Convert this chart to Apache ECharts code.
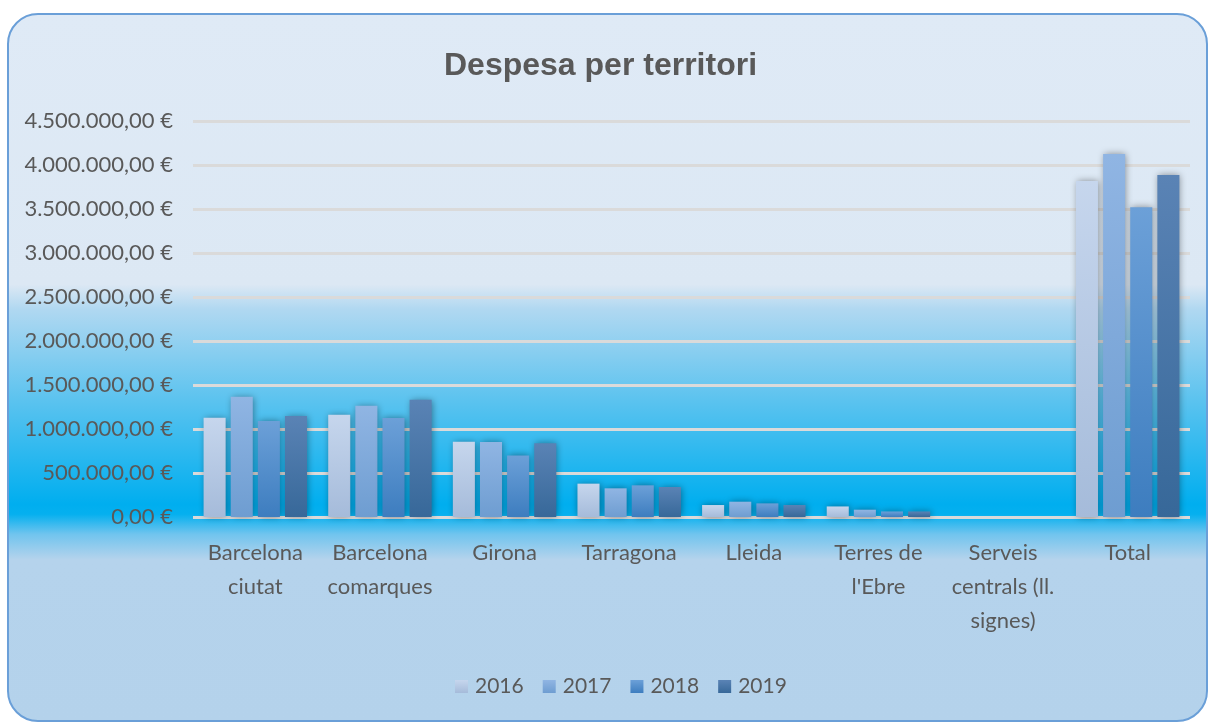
<!DOCTYPE html>
<html>
<head>
<meta charset="utf-8">
<script src="https://cdn.jsdelivr.net/npm/echarts@6/dist/echarts.min.js"></script>
<style>
  html, body { margin: 0; padding: 0; background: #fff; }
  #chart { width: 1210px; height: 724px; }
</style>
</head>
<body>
<div id="chart"></div>
<script>
// chart data
var categories = ['Barcelona\nciutat', 'Barcelona\ncomarques', 'Girona', 'Tarragona', 'Lleida',
	"Terres de\nl'Ebre", 'Serveis\ncentrals (ll.\nsignes)', 'Total'];
var years = ['2016', '2017', '2018', '2019'];
var values2016 = [1127000, 1163000, 856000, 379000, 136000, 120000, 0, 3818000];
var values2017 = [1367000, 1265000, 852000, 326000, 174000, 83000, 0, 4125000];
var values2018 = [1090000, 1125000, 700000, 360000, 155000, 63000, 0, 3520000];
var values2019 = [1148000, 1333000, 837000, 341000, 136000, 63000, 0, 3886000];
var yTicks = { min: 0, max: 4500000, interval: 500000 };

// bar fills, top colour -> bottom colour
var barColors = [
	['#c6d6ed', '#a5bbda'],
	['#90b5e3', '#6e9dd1'],
	['#6ca0d8', '#3d7dbf'],
	['#5a83b5', '#376899']
];

var labelFont = 'Lato, "Open Sans", sans-serif';

function grad(c) {
	return new echarts.graphic.LinearGradient(0, 0, 0, 1, [
		{ offset: 0, color: c[0] }, { offset: 1, color: c[1] }
	]);
}

// 1.234.567,00 €
function euro(v) {
	var s = Math.round(v).toString().replace(/\B(?=(\d{3})+(?!\d))/g, '.');
	return s + ',00 €';
}

var allValues = [values2016, values2017, values2018, values2019];
var series = years.map(function (y, i) {
	return {
		name: y,
		type: 'bar',
		data: allValues[i],
		barGap: '23%',
		barCategoryGap: '17%',
		itemStyle: {
			color: grad(barColors[i]),
			shadowColor: 'rgba(0,0,0,0.4)',
			shadowBlur: 7,
			shadowOffsetX: 1,
			shadowOffsetY: 0
		}
	};
});

var chart = echarts.init(document.getElementById('chart'), null, { renderer: 'canvas' });
chart.setOption({
	animation: false,
	graphic: [{
		type: 'rect',
		z: -10,
		silent: true,
		shape: { x: 8, y: 14, width: 1199, height: 707, r: 30 },
		style: {
			fill: new echarts.graphic.LinearGradient(0, 0, 0, 1, [
				{ offset: 0, color: '#dfeaf6' },
				{ offset: 0.383, color: '#dce8f4' },
				{ offset: 0.418, color: '#b0d8f1' },
				{ offset: 0.545, color: '#5cc3ef' },
				{ offset: 0.693, color: '#00aeef' },
				{ offset: 0.707, color: '#05b0ef' },
				{ offset: 0.735, color: '#70c4ee' },
				{ offset: 0.771, color: '#b5d3ec' },
				{ offset: 1, color: '#b4d2eb' }
			]),
			stroke: '#6a9fd8',
			lineWidth: 2
		}
	}],
	title: {
		text: 'Despesa per territori',
		left: 439,
		top: 45,
		textStyle: {
			fontFamily: '"Liberation Sans Narrow", "Liberation Sans", sans-serif',
			fontWeight: 'bold',
			fontSize: 32,
			color: '#595959'
		}
	},
	legend: {
		data: years,
		bottom: 22,
		left: 450,
		itemWidth: 13,
		itemHeight: 13,
		itemGap: 19,
		icon: 'rect',
		textStyle: { fontFamily: labelFont, fontSize: 21, color: '#595959', padding: [0, 0, 0, 2] }
	},
	grid: { left: 193, right: 20, top: 121, bottom: 207 },
	xAxis: {
		type: 'category',
		data: categories,
		axisTick: { show: false },
		axisLine: { show: false },
		axisLabel: {
			interval: 0,
			margin: 19,
			fontFamily: labelFont,
			fontSize: 22,
			lineHeight: 34,
			color: '#595959',
			verticalAlign: 'top'
		}
	},
	yAxis: {
		type: 'value',
		min: yTicks.min,
		max: yTicks.max,
		interval: yTicks.interval,
		axisLine: { show: false },
		axisTick: { show: false },
		axisLabel: {
			margin: 20,
			fontFamily: labelFont,
			fontSize: 22,
			color: '#595959',
			formatter: euro
		},
		splitLine: { lineStyle: { color: '#dadada', width: 3 } }
	},
	series: series
});
</script>
</body>
</html>
